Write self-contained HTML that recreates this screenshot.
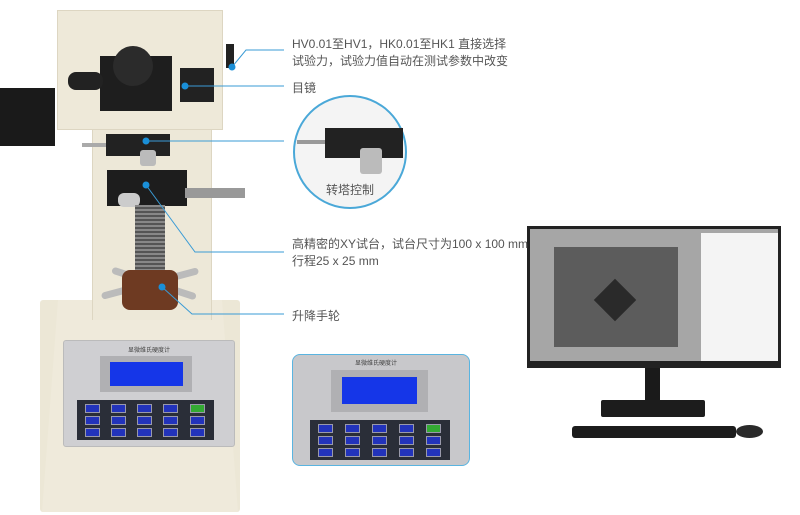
<!DOCTYPE html>
<html><head><meta charset="utf-8"><style>
body{margin:0;width:800px;height:515px;background:#fff;position:relative;overflow:hidden;font-family:"Liberation Sans","Noto Sans CJK SC",sans-serif}
div{position:absolute;box-sizing:border-box}
.t{color:#555;font-size:12px;white-space:nowrap}
.k{background:#2233bb;border:1px solid #99a;width:15px;height:9px}
</style></head><body>
<div style="left:40px;top:300px;width:200px;height:212px;background:#ece7d6;border-radius:3px"></div>
<svg width="200" height="212" style="position:absolute;left:40px;top:300px"><polygon points="18,0 182,0 198,212 2,212" fill="#efeadb"/></svg>
<div style="left:92px;top:120px;width:120px;height:200px;background:#ede8d8;border-left:1px solid #ddd6c2;border-right:1px solid #ddd6c2"></div>
<div style="left:57px;top:10px;width:166px;height:120px;background:#eee9d9;border:1px solid #ddd6c2"></div>
<div style="left:0;top:88px;width:55px;height:58px;background:#1a1a1a"></div>
<div style="left:100px;top:56px;width:72px;height:55px;background:#1e1e1e"></div>
<div style="left:68px;top:72px;width:35px;height:18px;background:#222;border-radius:8px"></div>
<div style="left:113px;top:46px;width:40px;height:40px;background:#2b2b2b;border-radius:50%"></div>
<div style="left:180px;top:68px;width:34px;height:34px;background:#222"></div>
<div style="left:226px;top:44px;width:8px;height:24px;background:#222"></div>
<div style="left:82px;top:143px;width:30px;height:4px;background:#aaa"></div>
<div style="left:106px;top:134px;width:64px;height:22px;background:#222"></div>
<div style="left:140px;top:150px;width:16px;height:16px;background:#bbb;border-radius:3px"></div>
<div style="left:107px;top:170px;width:80px;height:36px;background:#1d1d1d"></div>
<div style="left:185px;top:188px;width:60px;height:10px;background:#999"></div>
<div style="left:118px;top:193px;width:22px;height:14px;background:#ccc;border-radius:6px"></div>
<div style="left:135px;top:205px;width:30px;height:70px;background:repeating-linear-gradient(#888 0 2px,#555 2px 4px)"></div>
<div style="left:100px;top:280px;width:100px;height:7px;background:#bbb;border-radius:4px;transform:rotate(-15deg)"></div>
<div style="left:110px;top:280px;width:88px;height:7px;background:#bbb;border-radius:4px;transform:rotate(18deg)"></div>
<div style="left:122px;top:270px;width:56px;height:40px;background:#6e3a22;border-radius:8px"></div>
<div style="left:63px;top:340px;width:172px;height:107px;background:#cfcfd2;border:1px solid #bbb;border-radius:3px"></div>
<div class="t" style="left:128px;top:345px;font-size:6px;color:#444">显微维氏硬度计</div>
<div style="left:100px;top:356px;width:92px;height:36px;background:#b0b0b3"></div>
<div style="left:110px;top:362px;width:73px;height:24px;background:#1536e8"></div>
<div style="left:77px;top:400px;width:137px;height:40px;background:#2a2e38"></div>
<div class="k" style="left:85px;top:404px"></div><div class="k" style="left:111px;top:404px"></div><div class="k" style="left:137px;top:404px"></div><div class="k" style="left:163px;top:404px"></div><div class="k" style="left:190px;top:404px;background:#3a3"></div>
<div class="k" style="left:85px;top:416px"></div><div class="k" style="left:111px;top:416px"></div><div class="k" style="left:137px;top:416px"></div><div class="k" style="left:163px;top:416px"></div><div class="k" style="left:190px;top:416px"></div>
<div class="k" style="left:85px;top:428px"></div><div class="k" style="left:111px;top:428px"></div><div class="k" style="left:137px;top:428px"></div><div class="k" style="left:163px;top:428px"></div><div class="k" style="left:190px;top:428px"></div>
<div style="left:293px;top:95px;width:114px;height:114px;border:2px solid #4aa8d8;border-radius:50%;background:#f4f4f4"></div>
<div style="left:297px;top:140px;width:30px;height:4px;background:#999"></div>
<div style="left:325px;top:128px;width:78px;height:30px;background:#222"></div>
<div style="left:360px;top:148px;width:22px;height:26px;background:#bbb;border-radius:3px"></div>
<div class="t" style="left:326px;top:181px;font-size:12px">转塔控制</div>
<div style="left:292px;top:354px;width:178px;height:112px;background:#c8c8cb;border:1px solid #5ab4e0;border-radius:8px"></div>
<div class="t" style="left:355px;top:358px;font-size:6px;color:#444">显微维氏硬度计</div>
<div style="left:331px;top:370px;width:97px;height:42px;background:#b0b0b3"></div>
<div style="left:342px;top:377px;width:75px;height:27px;background:#1536e8"></div>
<div style="left:310px;top:420px;width:140px;height:40px;background:#2a2e38"></div>
<div class="k" style="left:318px;top:424px"></div><div class="k" style="left:345px;top:424px"></div><div class="k" style="left:372px;top:424px"></div><div class="k" style="left:399px;top:424px"></div><div class="k" style="left:426px;top:424px;background:#3a3"></div>
<div class="k" style="left:318px;top:436px"></div><div class="k" style="left:345px;top:436px"></div><div class="k" style="left:372px;top:436px"></div><div class="k" style="left:399px;top:436px"></div><div class="k" style="left:426px;top:436px"></div>
<div class="k" style="left:318px;top:448px"></div><div class="k" style="left:345px;top:448px"></div><div class="k" style="left:372px;top:448px"></div><div class="k" style="left:399px;top:448px"></div><div class="k" style="left:426px;top:448px"></div>
<div style="left:527px;top:226px;width:254px;height:142px;background:#222"></div>
<div style="left:530px;top:229px;width:248px;height:132px;background:#a6a6a6"></div>
<div style="left:701px;top:233px;width:77px;height:128px;background:#f4f4f4"></div>
<div style="left:554px;top:247px;width:124px;height:100px;background:#5c5c5c"></div>
<div style="left:600px;top:285px;width:30px;height:30px;background:#2a2a2a;transform:rotate(45deg)"></div>
<div style="left:645px;top:368px;width:15px;height:34px;background:#1a1a1a"></div>
<div style="left:601px;top:400px;width:104px;height:17px;background:#1c1c1c;border-radius:2px"></div>
<div style="left:572px;top:426px;width:164px;height:12px;background:#1c1c1c;border-radius:3px"></div>
<div style="left:736px;top:425px;width:27px;height:13px;background:#2a2a2a;border-radius:50%"></div>
<svg width="800" height="515" style="position:absolute;left:0;top:0">
<g stroke="#3a9bd5" stroke-width="1" fill="none">
<polyline points="232,67 246,50 284,50"/>
<polyline points="185,86 284,86"/>
<polyline points="146,141 284,141"/>
<polyline points="146,185 195,252 284,252"/>
<polyline points="162,287 192,314 284,314"/>
</g>
<g fill="#1a8fd8"><circle cx="232" cy="67" r="3.5"/><circle cx="185" cy="86" r="3.5"/><circle cx="146" cy="141" r="3.5"/><circle cx="146" cy="185" r="3.5"/><circle cx="162" cy="287" r="3.5"/></g>
</svg>
<div class="t" style="left:292px;top:35px">HV0.01至HV1，HK0.01至HK1 直接选择</div>
<div class="t" style="left:292px;top:52px">试验力，试验力值自动在测试参数中改变</div>
<div class="t" style="left:292px;top:79px">目镜</div>
<div class="t" style="left:292px;top:235px">高精密的XY试台，试台尺寸为100 x 100 mm</div>
<div class="t" style="left:292px;top:252px">行程25 x 25 mm</div>
<div class="t" style="left:292px;top:307px">升降手轮</div>
</body></html>
